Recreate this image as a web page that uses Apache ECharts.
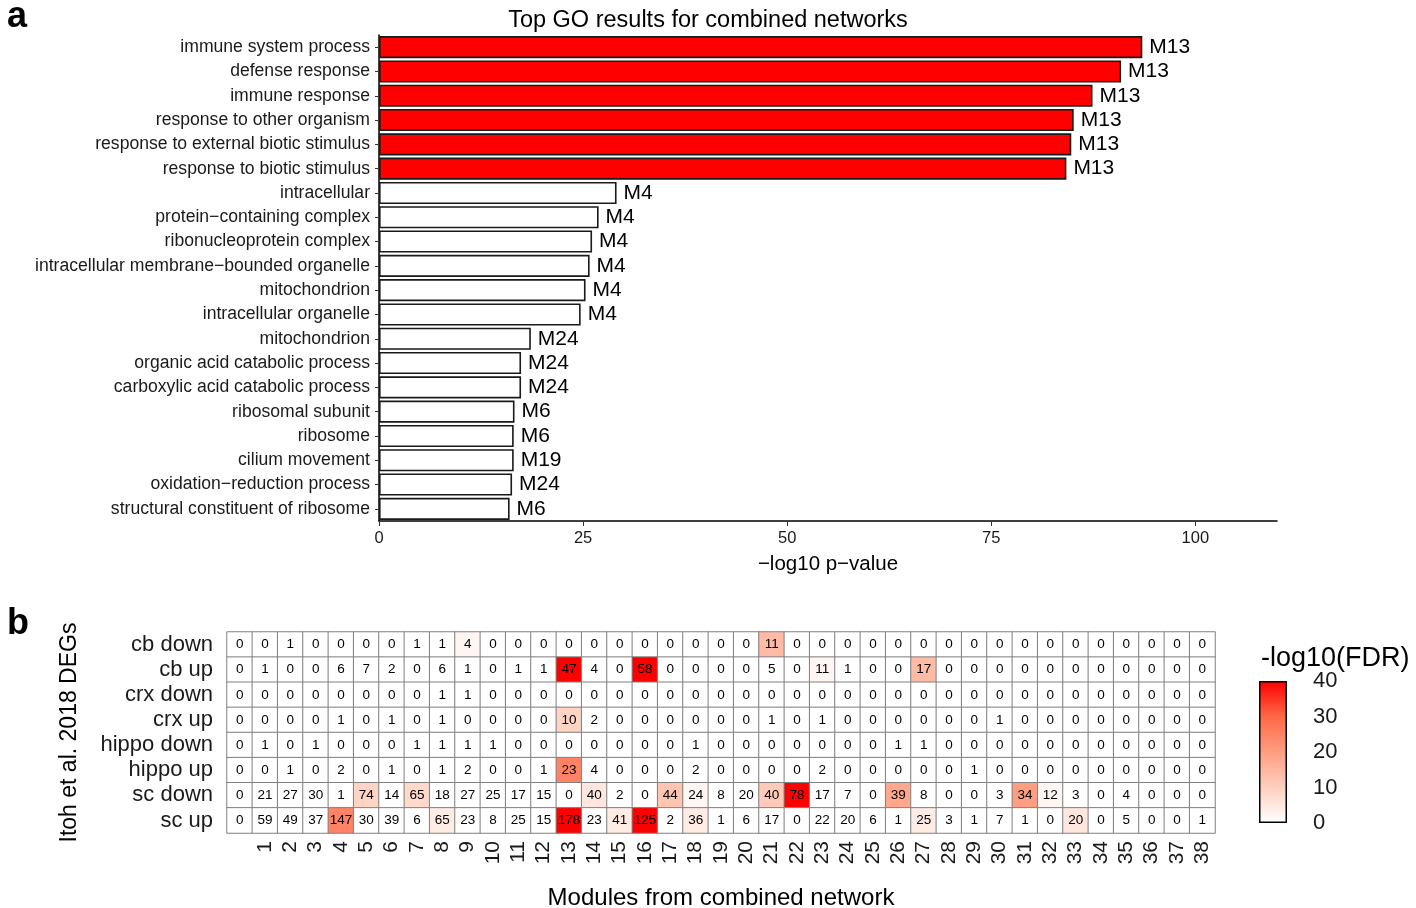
<!DOCTYPE html>
<html><head><meta charset="utf-8">
<script src="https://cdn.jsdelivr.net/npm/echarts@6/dist/echarts.min.js"></script>
<style>html,body{margin:0;padding:0;background:#fff}#c{width:1416px;height:908px}</style>
</head><body><div id="c"></div>
<script>
// ---- Panel a: GO terms ----
const goTerms = ['immune system process','defense response','immune response','response to other organism','response to external biotic stimulus','response to biotic stimulus','intracellular','protein\u2212containing complex','ribonucleoprotein complex','intracellular membrane\u2212bounded organelle','mitochondrion','intracellular organelle','mitochondrion','organic acid catabolic process','carboxylic acid catabolic process','ribosomal subunit','ribosome','cilium movement','oxidation\u2212reduction process','structural constituent of ribosome'];
const goValues = [93.5,90.9,87.4,85.1,84.8,84.2,29.1,26.9,26.1,25.8,25.3,24.7,18.6,17.4,17.4,16.6,16.5,16.5,16.3,16.0];
const goModules = ['M13','M13','M13','M13','M13','M13','M4','M4','M4','M4','M4','M4','M24','M24','M24','M6','M6','M19','M24','M6'];
const goTicks = [0,25,50,75,100];

// ---- Panel b: heatmap ----
const modules = ['','1','2','3','4','5','6','7','8','9','10','11','12','13','14','15','16','17','18','19','20','21','22','23','24','25','26','27','28','29','30','31','32','33','34','35','36','37','38'];
const degSets = ['cb down','cb up','crx down','crx up','hippo down','hippo up','sc down','sc up'];
const overlapCounts = [
 [0,0,1,0,0,0,0,1,1,4,0,0,0, 0,0,0,0,0,0,0,0,11,0,0,0,0, 0,0,0,0,0,0,0,0,0,0,0,0,0],
 [0,1,0,0,6,7,2,0,6,1,0,1,1, 47,4,0,58,0,0,0,0,5,0,11,1,0, 0,17,0,0,0,0,0,0,0,0,0,0,0],
 [0,0,0,0,0,0,0,0,1,1,0,0,0, 0,0,0,0,0,0,0,0,0,0,0,0,0, 0,0,0,0,0,0,0,0,0,0,0,0,0],
 [0,0,0,0,1,0,1,0,1,0,0,0,0, 10,2,0,0,0,0,0,0,1,0,1,0,0, 0,0,0,0,1,0,0,0,0,0,0,0,0],
 [0,1,0,1,0,0,0,1,1,1,1,0,0, 0,0,0,0,0,1,0,0,0,0,0,0,0, 1,1,0,0,0,0,0,0,0,0,0,0,0],
 [0,0,1,0,2,0,1,0,1,2,0,0,1, 23,4,0,0,0,2,0,0,0,0,2,0,0, 0,0,0,1,0,0,0,0,0,0,0,0,0],
 [0,21,27,30,1,74,14,65,18,27,25,17,15, 0,40,2,0,44,24,8,20,40,78,17,7,0, 39,8,0,0,3,34,12,3,0,4,0,0,0],
 [0,59,49,37,147,30,39,6,65,23,8,25,15, 178,23,41,125,2,36,1,6,17,0,22,20,6, 1,25,3,1,7,1,0,20,0,5,0,0,1]
];
const fdrValues = [
 [0,0,0,0,0,0,0,0,0,2,0,0,0, 0,0,0,0,0,0,0,0,14,0,0,0,0, 0,0,0,0,0,0,0,0,0,0,0,0,0],
 [0,0,0,0,0,0,0,0,0,0,0,0,0, 40,0,0,40,0,0,0,0,0,0,2,0,0, 0,14,0,0,0,0,0,0,0,0,0,0,0],
 [0,0,0,0,0,0,0,0,0,0,0,0,0, 0,0,0,0,0,0,0,0,0,0,0,0,0, 0,0,0,0,0,0,0,0,0,0,0,0,0],
 [0,0,0,0,0,0,0,0,0,0,0,0,0, 9,0,0,0,0,0,0,0,0,0,0,0,0, 0,0,0,0,0,0,0,0,0,0,0,0,0],
 [0,0,0,0,0,0,0,0,0,0,0,0,0, 0,0,0,0,0,0,0,0,0,0,0,0,0, 0,0,0,0,0,0,0,0,0,0,0,0,0],
 [0,0,0,0,0,0,0,0,0,0,0,0,0, 25,0,0,0,0,0,0,0,0,0,0,0,0, 0,0,0,0,0,0,0,0,0,0,0,0,0],
 [0,0,0,0,0,9,0,8,0,0,0,0,0, 0,5,0,0,12,2,0,0,11,40,0,0,0, 18,0,0,0,0,20,2,0,0,0,0,0,0],
 [0,0,0,0,25,0,0,0,4,0,0,0,0, 40,0,4,40,0,4,0,0,0,0,0,0,0, 0,4,0,0,0,0,0,5,0,0,0,0,0]
];
const fdrTicks = [0,10,20,30,40];
const fdrColors = ['#ffffff','#ffcfbf','#ff9e81','#ff6846','#ff0000'];

const heatData = [];
degSets.forEach((s, r) => modules.forEach((m, c) => heatData.push([c, r, fdrValues[r][c], overlapCounts[r][c]])));

const FONT = 'Liberation Sans, Arial, Helvetica, sans-serif';
const chart = echarts.init(document.getElementById('c'), null, {renderer: 'canvas'});
chart.setOption({
  animation: false,
  backgroundColor: '#ffffff',
  textStyle: {fontFamily: FONT},
  title: [
    {text: 'Top GO results for combined networks', left: 'center', top: 4, textStyle: {fontFamily: FONT, fontSize: 23.5, fontWeight: 'normal', color: '#000'}},
    {text: 'a', left: 2, top: -6, textStyle: {fontFamily: FONT, fontSize: 36, fontWeight: 'bold', color: '#000'}},
    {text: 'b', left: 2, top: 601, textStyle: {fontFamily: FONT, fontSize: 36, fontWeight: 'bold', color: '#000'}},
    {text: '-log10(FDR)', left: 1256, top: 640, textStyle: {fontFamily: FONT, fontSize: 27, fontWeight: 'normal', color: '#000'}}
  ],
  grid: [
    {left: 379, width: 898, top: 35, height: 486, outerBoundsMode: 'none', containLabel: false},
    {left: 227, width: 988, top: 632, height: 201, outerBoundsMode: 'none', containLabel: false},
    {left: 1259, width: 28, top: 681, height: 142, outerBoundsMode: 'none', containLabel: false}
  ],
  xAxis: [
    {gridIndex: 0, type: 'value', min: 0, max: 110, interval: 25,
     axisLine: {show: true, lineStyle: {color: '#000', width: 1.5}},
     axisTick: {show: true, length: 5, lineStyle: {color: '#333'}, customValues: goTicks},
     axisLabel: {fontSize: 16.5, color: '#1a1a1a', margin: 9, customValues: goTicks},
     splitLine: {show: false},
     name: '\u2212log10 p\u2212value', nameLocation: 'middle', nameGap: 33,
     nameTextStyle: {fontSize: 20.5, color: '#000', fontFamily: FONT}},
    {gridIndex: 1, type: 'category', data: modules,
     axisLine: {show: false}, axisTick: {show: false},
     axisLabel: {rotate: 90, fontSize: 21, color: '#1a1a1a', margin: 8, interval: 0},
     splitLine: {show: false},
     name: 'Modules from combined network', nameLocation: 'middle', nameGap: 53,
     nameTextStyle: {fontSize: 24, color: '#000', fontFamily: FONT}},
    {gridIndex: 2, type: 'category', data: [''], show: false}
  ],
  yAxis: [
    {gridIndex: 0, type: 'category', data: goTerms, inverse: true,
     axisLine: {show: true, lineStyle: {color: '#000', width: 1.5}},
     axisTick: {show: true, length: 4, alignWithLabel: true, lineStyle: {color: '#333'}},
     axisLabel: {fontSize: 17.6, color: '#1a1a1a', margin: 9, interval: 0}},
    {gridIndex: 1, type: 'category', data: degSets, inverse: true,
     axisLine: {show: false}, axisTick: {show: false},
     axisLabel: {fontSize: 22, color: '#1a1a1a', margin: 14, interval: 0},
     name: 'Itoh et al. 2018 DEGs', nameLocation: 'middle', nameRotate: 90, nameGap: 146,
     nameTextStyle: {fontSize: 23, color: '#000', fontFamily: FONT}},
    {gridIndex: 2, type: 'value', min: 0, max: 40, interval: 10, position: 'right',
     axisLine: {show: false},
     axisTick: {show: true, inside: true, length: 5, lineStyle: {color: '#000', width: 1.2}, customValues: [10, 20, 30]},
     axisLabel: {fontSize: 22, color: '#1a1a1a', margin: 26},
     splitLine: {show: false}},
    {gridIndex: 2, type: 'value', min: 0, max: 40, interval: 10, position: 'left',
     axisLine: {show: false},
     axisTick: {show: true, inside: true, length: 5, lineStyle: {color: '#000', width: 1.2}, customValues: [10, 20, 30]},
     axisLabel: {show: false}, splitLine: {show: false}}
  ],
  visualMap: [{
    show: false, type: 'continuous', seriesIndex: 1, dimension: 2,
    min: fdrTicks[0], max: fdrTicks[fdrTicks.length - 1],
    inRange: {color: fdrColors}
  }],
  series: [
    {type: 'bar', xAxisIndex: 0, yAxisIndex: 0, barCategoryGap: '9%',
     data: goValues.map((v, i) => ({value: v, itemStyle: {color: goModules[i] === 'M13' ? '#ff0000' : '#ffffff'}})),
     itemStyle: {borderColor: '#1a1a1a', borderWidth: 1.6},
     label: {show: true, position: 'right', distance: 7, fontSize: 21, color: '#000',
             formatter: p => goModules[p.dataIndex]}},
    {type: 'heatmap', xAxisIndex: 1, yAxisIndex: 1, data: heatData,
     itemStyle: {borderColor: '#808080', borderWidth: 1},
     label: {show: true, fontSize: 13.5, color: '#000', formatter: p => String(p.data[3])},
     emphasis: {disabled: true}},
    {type: 'bar', xAxisIndex: 2, yAxisIndex: 2, barWidth: '100%', silent: true, z: 1,
     data: [fdrTicks[fdrTicks.length - 1]],
     itemStyle: {borderColor: '#000', borderWidth: 1.5,
       color: new echarts.graphic.LinearGradient(0, 1, 0, 0, fdrColors.map((c, i) => ({offset: i / (fdrColors.length - 1), color: c})))}}
  ]
});
</script></body></html>
